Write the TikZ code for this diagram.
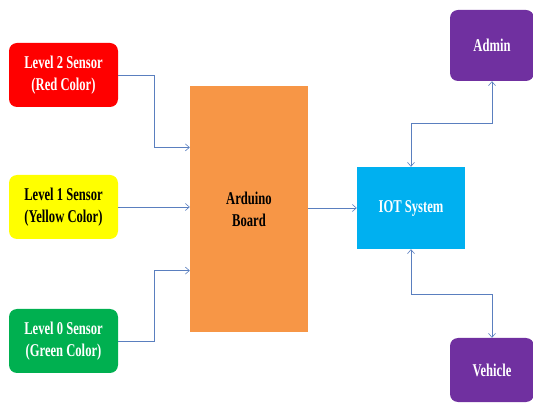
\documentclass[tikz,border=0pt]{standalone}
\usepackage{fontspec}
\newfontfamily\boxfont[FakeStretch=0.7]{Liberation Serif}
\usetikzlibrary{calc,arrows.meta}
\definecolor{sred}{HTML}{FF0000}
\definecolor{syellow}{HTML}{FFFF00}
\definecolor{sgreen}{HTML}{00B050}
\definecolor{sorange}{HTML}{F79646}
\definecolor{scyan}{HTML}{00B0F0}
\definecolor{spurple}{HTML}{7030A0}
\definecolor{slink}{HTML}{5A7FBF}
\tikzset{
	blk/.style={inner sep=0pt, align=center, font=\boxfont\bfseries\fontsize{18}{22}\selectfont},
	sensor/.style={blk, rounded corners=8pt, minimum width=109pt, minimum height=64pt},
	user/.style={blk, rounded corners=8pt, minimum width=84pt, text=white, fill=spurple},
	barb/.tip={Straight Barb[length=4pt,width=7pt]},
	link/.style={draw=slink, line width=0.6pt, -barb},
	twoway/.style={draw=slink, line width=0.6pt, barb-barb}
}

\begin{document}
\begin{tikzpicture}[x=1pt,y=-1pt]
			%%%%% START %%%%%
			
			\useasboundingbox (0,0) rectangle (533,403);
			
			\node[sensor, fill=sred, text=white] (red) at (63.5, 75) {Level 2 Sensor\\(Red Color)};
			\node[sensor, fill=syellow, text=black] (yel) at (63.5, 207) {Level 1 Sensor\\(Yellow Color)};
			\node[sensor, fill=sgreen, text=white] (grn) at (63.5, 341) {Level 0 Sensor\\(Green Color)};
			
			\node[blk, fill=sorange, minimum width=118pt, minimum height=246pt] (ardu) at (249, 209) {Arduino\\Board};
			\node[blk, fill=scyan, text=white, minimum width=108pt, minimum height=82pt] (iot) at (411, 208) {IOT System};
			
			\node[user, minimum height=71pt] (admin) at (492, 45.5) {Admin};
			\node[user, minimum height=64pt] (veh) at (492, 370) {Vehicle};
			
			\draw[link] (red.east) -- ++(36,0) |- ($(ardu.north west)!0.25!(ardu.south west)$);
			\draw[link] (yel.east) -- (yel.east -| ardu.west);
			\draw[link] (grn.east) -- ++(36,0) |- ($(ardu.north west)!0.75!(ardu.south west)$);
			
			\draw[link] (ardu.east |- iot.west) -- (iot.west);
			
			\draw[twoway] (iot.north) -- ++(0,-43) -| (admin.south);
			\draw[twoway] (iot.south) -- ++(0,45) -| (veh.north);
			
			%%%%% END %%%%%
		\end{tikzpicture}
\end{document}
